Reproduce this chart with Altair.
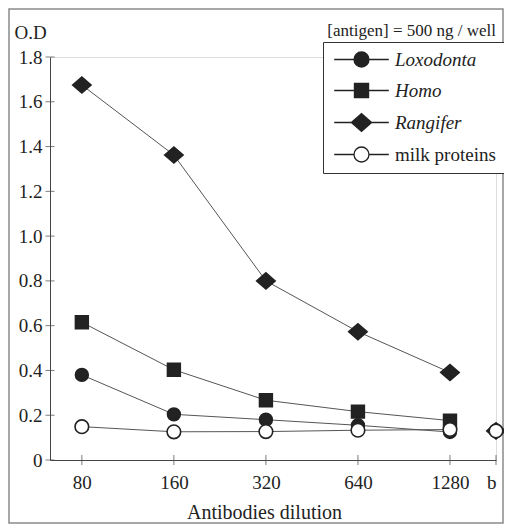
import altair as alt
import pandas as pd

# ---- data ----
dilutions = ["80", "160", "320", "640", "1280", "b"]
dilution_pos = [0, 1, 2, 3, 4, 4.5]          # 'b' (blank) sits half a step after 1280
series_names = ["Loxodonta", "Homo", "Rangifer", "milk proteins"]
loxodonta = [0.38, 0.204, 0.18, 0.155, 0.125, None]
homo = [0.615, 0.403, 0.267, 0.216, 0.176, None]
rangifer = [1.675, 1.362, 0.80, 0.573, 0.391, 0.13]
milk = [0.149, 0.126, 0.127, 0.133, 0.136, 0.13]
y_tick_values = [0, 0.2, 0.4, 0.6, 0.8, 1.0, 1.2, 1.4, 1.6, 1.8]

FONT = "Liberation Serif, Times New Roman, serif"
INK = "#222222"
X_MIN = -0.346
W, H = 446, 403

rows = []
for name, vals in zip(series_names, [loxodonta, homo, rangifer, milk]):
    for lab, pos, v in zip(dilutions, dilution_pos, vals):
        if v is None:
            continue
        rows.append({"series": name, "dilution": lab, "pos": pos, "od": v,
                     "kind": "blank" if lab == "b" else "curve"})
df = pd.DataFrame(rows)
df_yt = pd.DataFrame({"v": y_tick_values})
df_xt = pd.DataFrame({"p": dilution_pos})

point_paths = [
    "M-0.8,0A0.8,0.8,0,1,0,0.8,0A0.8,0.8,0,1,0,-0.8,0Z",
    "M-0.8,-0.8H0.8V0.8H-0.8Z",
    "M-1.15,0L0,-1.0L1.15,0L0,1.0Z",
    "M-0.85,0A0.85,0.85,0,1,0,0.85,0A0.85,0.85,0,1,0,-0.85,0Z",
]
legend_paths = [
    "M-3.1,0H-0.85M0.85,0H3.1M-0.85,0A0.85,0.85,0,1,0,0.85,0A0.85,0.85,0,1,0,-0.85,0Z",
    "M-3.1,0H-0.8M0.8,0H3.1M-0.8,-0.8H0.8V0.8H-0.8Z",
    "M-3.1,0H-1.15M1.15,0H3.1M-1.15,0L0,-1.0L1.15,0L0,1.0Z",
    "M-3.1,0H-0.85M0.85,0H3.1M-0.85,0A0.85,0.85,0,1,0,0.85,0A0.85,0.85,0,1,0,-0.85,0Z",
]
fills = [INK, INK, INK, "#ffffff"]

x_enc = alt.X("pos:Q", scale=alt.Scale(domain=[X_MIN, 4.5], nice=False, zero=False),
              axis=alt.Axis(values=dilution_pos, ticks=False, grid=False,
                            labelExpr="datum.value == 4.5 ? 'b' : ['80','160','320','640','1280'][datum.value]",
                            labelFont=FONT, labelFontSize=19, labelColor=INK, labelPadding=13,
                            domainColor="#444", title="Antibodies dilution", titleFont=FONT,
                            titleFontSize=20, titleFontWeight="normal", titleColor=INK,
                            titlePadding=10, titleX=214))
y_enc = alt.Y("od:Q", scale=alt.Scale(domain=[0, 1.8], nice=False),
              axis=alt.Axis(values=y_tick_values, ticks=False, grid=False,
                            labelExpr="datum.value == 0 ? '0' : format(datum.value, '.1f')",
                            labelFont=FONT, labelFontSize=19, labelColor=INK, labelPadding=8,
                            domainColor="#444", title="O.D", titleFont=FONT, titleFontSize=19,
                            titleFontWeight="normal", titleColor=INK, titleAngle=0,
                            titleAlign="left", titleBaseline="alphabetic", titleX=-36, titleY=-19))

base = alt.Chart(df)

lines = base.transform_filter("datum.kind == 'curve'").mark_line(
    color="#555555", strokeWidth=1).encode(x=x_enc, y=y_enc, detail="series:N", order="pos:Q")

points = base.mark_point(filled=True, opacity=1, stroke=INK, strokeWidth=1.6, size=256).encode(
    x="pos:Q", y="od:Q",
    shape=alt.Shape("series:N", scale=alt.Scale(domain=series_names, range=point_paths), legend=None),
    fill=alt.Fill("series:N", scale=alt.Scale(domain=series_names, range=fills), legend=None),
)

leg = alt.Legend(title=None, orient="none", legendX=273, legendY=-15, strokeColor="#333333",
                 fillColor="#ffffff", padding=8, symbolSize=310, symbolOffset=21, labelOffset=24,
                 labelFont=FONT, labelFontSize=19, labelColor=INK, rowPadding=10,
                 symbolStrokeColor=INK, symbolStrokeWidth=1.3,
                 labelFontStyle=alt.ExprRef("datum.label == 'milk proteins' ? 'normal' : 'italic'"))

legend_layer = base.transform_filter("false").mark_point(
    filled=True, opacity=1, strokeWidth=1.3).encode(
    x="pos:Q", y="od:Q",
    shape=alt.Shape("series:N", scale=alt.Scale(domain=series_names, range=legend_paths), legend=leg),
    fill=alt.Fill("series:N", scale=alt.Scale(domain=series_names, range=fills), legend=leg),
    stroke=alt.Stroke("series:N", scale=alt.Scale(domain=series_names, range=[INK] * 4), legend=leg),
)

yticks = alt.Chart(df_yt).mark_tick(orient="horizontal", color="#444", size=9, thickness=1).encode(
    x=alt.datum(X_MIN), y="v:Q")
xticks = alt.Chart(df_xt).mark_tick(orient="vertical", color="#444", size=10, thickness=1).encode(
    x="p:Q", y=alt.datum(0))

# decorative outer frame of the figure (around the whole chart, not data)
frame = alt.Chart(pd.DataFrame({"f": [0]})).mark_rect(
    fill=None, stroke="#8a8a8a", strokeWidth=1.5).encode(
    x=alt.value(-41), x2=alt.value(W + 7), y=alt.value(-48), y2=alt.value(H + 63))

chart = alt.layer(frame, yticks, xticks, lines, points, legend_layer).resolve_scale(
    shape="independent", fill="independent", stroke="independent"
).properties(
    width=W, height=H,
    padding={"left": 42, "top": 49, "right": 8, "bottom": 64},
    autosize=alt.AutoSizeParams(type="none"),
    title=alt.TitleParams("[antigen] = 500 ng / well", anchor="end", frame="group", font=FONT,
                          fontSize=17, fontWeight="normal", color=INK, offset=0, dy=32),
).configure_view(stroke=None).configure(background="white")

chart.save("out.html", embed_options={"renderer": "svg", "actions": False})
